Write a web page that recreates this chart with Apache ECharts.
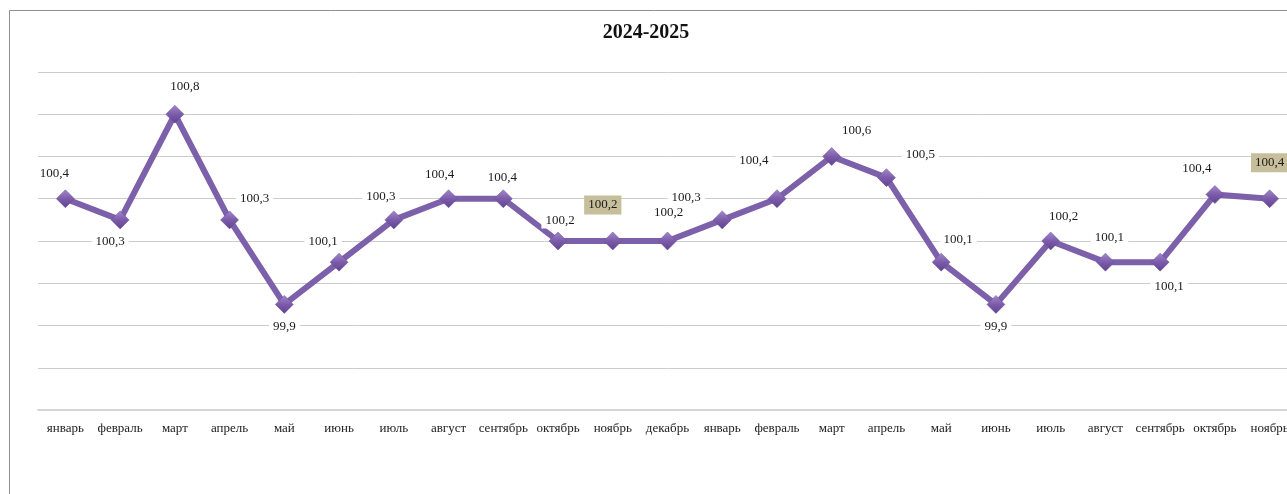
<!DOCTYPE html>
<html>
<head>
<meta charset="utf-8">
<title>2024-2025</title>
<script src="https://cdn.jsdelivr.net/npm/echarts@6/dist/echarts.min.js"></script>
<style>
    html, body { margin: 0; padding: 0; background: #fff; overflow: hidden; }
    #chart { width: 1297px; height: 494px; }
</style>
</head>
<body>
<div id="chart"></div>
<script>
var months = ['январь', 'февраль', 'март', 'апрель', 'май', 'июнь', 'июль', 'август', 'сентябрь', 'октябрь', 'ноябрь', 'декабрь',
    'январь', 'февраль', 'март', 'апрель', 'май', 'июнь', 'июль', 'август', 'сентябрь', 'октябрь', 'ноябрь'];
var values = [100.4, 100.3, 100.8, 100.3, 99.9, 100.1, 100.3, 100.4, 100.4, 100.2, 100.2, 100.2,
    100.3, 100.4, 100.6, 100.5, 100.1, 99.9, 100.2, 100.1, 100.1, 100.42, 100.4];
// which labels get the beige box
var highlighted = [10, 22];

// label placement relative to the marker, as in the original picture
var labelOffsets = [[-11, -25], [-10, 22], [10, -28], [25, -21], [0, 22], [-16, -21], [-13, -23], [-9, -24],
    [-1, -21], [2, -20], [-10, -36], [1, -28], [-36, -22], [-23, -38], [25, -26], [34, -23], [17, -23],
    [0, 22], [13, -24], [4, -25], [9, 24], [-18, -26], [0, -36]];

var fontName = '"Liberation Serif", "Times New Roman", serif';

var data = [];
for (var i = 0; i < values.length; i++) {
    var hl = highlighted.indexOf(i) >= 0;
    data.push({
        value: values[i],
        label: {
            offset: labelOffsets[i],
            backgroundColor: hl ? '#c7bf9b' : '#fff',
            padding: hl ? [3, 4] : [1, 4]
        }
    });
}

var myChart = echarts.init(document.getElementById('chart'));
var option = {
    animation: false,
    title: {
        text: '2024-2025',
        left: 641,
        top: 18,
        textAlign: 'center',
        textStyle: {
            fontFamily: fontName,
            fontWeight: 'bold',
            fontSize: 20,
            color: '#111'
        }
    },
    graphic: [{
        type: 'rect',
        shape: { x: 9.5, y: 10.5, width: 1400, height: 600 },
        style: { fill: 'none', stroke: '#8f8f8f', lineWidth: 1 },
        silent: true
    }],
    grid: {
        left: 38,
        right: 0,
        top: 72,
        bottom: 84
    },
    xAxis: {
        type: 'category',
        data: months,
        boundaryGap: true,
        axisLine: { lineStyle: { color: '#d6d6d6', width: 2 } },
        axisTick: { show: false },
        axisLabel: {
            interval: 0,
            margin: 12,
            fontFamily: fontName,
            fontSize: 13,
            color: '#222'
        }
    },
    yAxis: {
        type: 'value',
        min: 99.4,
        max: 101.0,
        interval: 0.2,
        axisLabel: { show: false },
        axisLine: { show: false },
        axisTick: { show: false },
        splitLine: { lineStyle: { color: '#cccccc', width: 1 } }
    },
    series: [{
        name: '2024-2025',
        type: 'line',
        data: data,
        smooth: false,
        symbol: 'diamond',
        symbolSize: 18,
        lineStyle: { color: '#7d60aa', width: 6 },
        itemStyle: {
            color: new echarts.graphic.LinearGradient(0, 0, 0, 1, [
                { offset: 0, color: '#a288cc' },
                { offset: 0.5, color: '#7c5caa' },
                { offset: 1, color: '#5f4390' }
            ]),
            borderColor: '#6a4e98',
            borderWidth: 0.5
        },
        label: {
            show: true,
            position: 'inside',
            fontFamily: fontName,
            fontSize: 13,
            color: '#1a1a1a',
            formatter: function (p) {
                return p.value.toFixed(1).replace('.', ',');
            }
        },
        z: 3
    }]
};
myChart.setOption(option);
</script>
</body>
</html>
